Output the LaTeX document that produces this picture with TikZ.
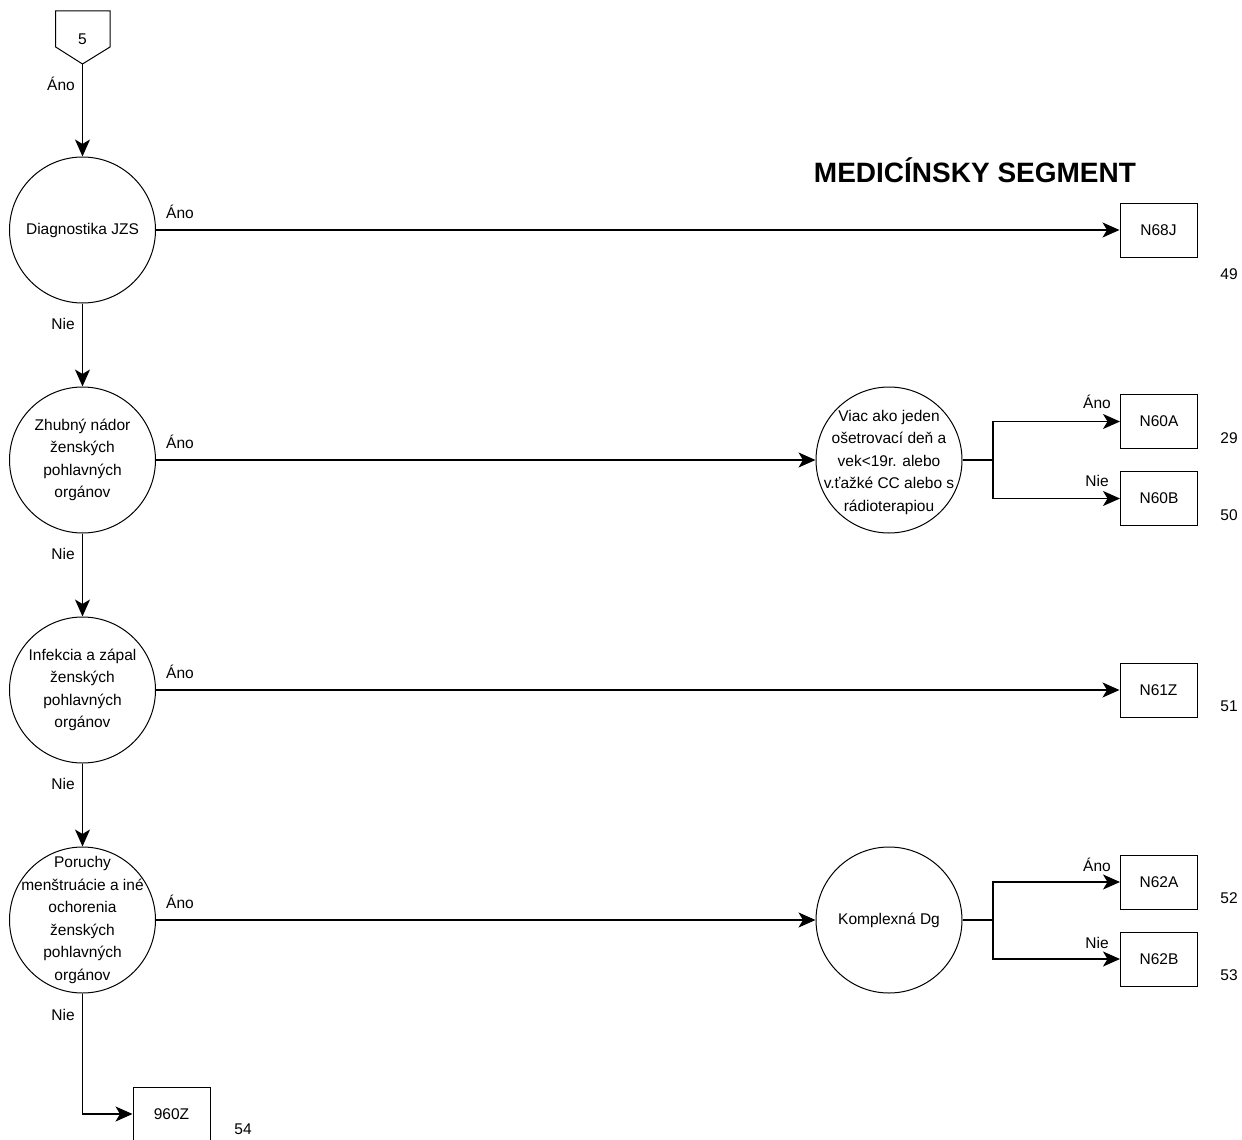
\documentclass[tikz,border=0pt]{standalone}
\usepackage{fontspec}
\setmainfont{Liberation Sans}
\usetikzlibrary{arrows.meta}
\begin{document}
\begin{tikzpicture}[x=1pt,y=-1pt,
 every node/.style={font=\fontsize{15.5}{22.5}\selectfont},
 dec/.style={draw,circle,minimum size=146pt,inner sep=0pt,line width=1pt},
 ctext/.style={align=center,inner sep=0pt},
 box/.style={draw,minimum width=77pt,minimum height=54pt,inner sep=0pt,line width=1pt},
 lbl/.style={anchor=base,inner sep=0pt},
 conn/.style={line width=1.3pt,-{Stealth[length=17pt,width=15pt,inset=4.5pt]}},
 plain/.style={line width=1.3pt}]
\fill[white] (0,0) rectangle (1242,1140);
\useasboundingbox (0,0) rectangle (1242,1140);

% off-page connector
\draw[line width=1pt] (55.7,11) -- (110,11) -- (110,47) -- (82.5,64) -- (55.7,47) -- cycle;
\node[ctext] (p5) at (82.5,39) {5};
\coordinate (p5tip) at (82.5,64);

% title
\node[lbl,font=\fontsize{28}{30}\selectfont\bfseries] (title) at (975,182) {MEDICÍNSKY SEGMENT};

% decision circles
\node[dec] (c1) at (82.5,230) {};
\node[ctext] (t1) at (c1) {Diagnostika JZS};
\node[dec] (c2) at (82.5,460) {};
\node[ctext] (t2) at (c2) {Zhubný nádor\\ženských\\pohlavných\\orgánov};
\node[dec] (c3) at (82.5,690) {};
\node[ctext] (t3) at (c3) {Infekcia a zápal\\ženských\\pohlavných\\orgánov};
\node[dec] (c4) at (82.5,920) {};
\node[ctext] (t4) at (c4) {Poruchy\\menštruácie a iné\\ochorenia\\ženských\\pohlavných\\orgánov};
\node[dec] (v) at (889,460) {};
\node[ctext] (tv) at (889,462) {Viac ako jeden\\ošetrovací deň a\\vek<19r. alebo\\v.ťažké CC alebo s\\rádioterapiou};
\node[dec] (k) at (889,920) {};
\node[ctext] (tk) at (k) {Komplexná Dg};

% result boxes
\node[box] (n68j) at (1158.5,230) {N68J};
\node[box] (n60a) at (1159,421.5) {N60A};
\node[box] (n60b) at (1159,498.5) {N60B};
\node[box] (n61z) at (1158.5,690) {N61Z};
\node[box] (n62a) at (1159,882) {N62A};
\node[box] (n62b) at (1159,959) {N62B};
\node[box] (z960) at (171.5,1114) {960Z};

% numbers
\node[lbl] (m49) at (1229,279) {49};
\node[lbl] (m29) at (1229,443) {29};
\node[lbl] (m50) at (1229,520) {50};
\node[lbl] (m51) at (1229,711) {51};
\node[lbl] (m52) at (1229,903) {52};
\node[lbl] (m53) at (1229,980) {53};
\node[lbl] (m54) at (243,1134) {54};

% branch points
\coordinate (b1) at (993,460);
\coordinate (b2) at (993,920);

% connectors
\draw[conn] (p5tip) -- (c1);
\draw[conn] (c1) -- (n68j);
\draw[conn] (c1) -- (c2);
\draw[conn] (c2) -- (v);
\draw[plain] (v) -- (b1);
\draw[conn] (b1) |- (n60a);
\draw[conn] (b1) |- (n60b);
\draw[conn] (c2) -- (c3);
\draw[conn] (c3) -- (n61z);
\draw[conn] (c3) -- (c4);
\draw[conn] (c4) -- (k);
\draw[plain] (k) -- (b2);
\draw[conn] (b2) |- (n62a);
\draw[conn] (b2) |- (n62b);
\draw[conn] (c4.south) |- (z960.west);

% edge labels
\node[lbl] (l0) at (61,91) {Áno};
\node[lbl] (l1a) at (180,218) {Áno};
\node[lbl] (l1n) at (63,329) {Nie};
\node[lbl] (l2a) at (180,448) {Áno};
\node[lbl] (l2n) at (63,559) {Nie};
\node[lbl] (l3a) at (180,678) {Áno};
\node[lbl] (l3n) at (63,789) {Nie};
\node[lbl] (l4a) at (180,908) {Áno};
\node[lbl] (l4n) at (63,1020) {Nie};
\node[lbl] (lva) at (1097,408) {Áno};
\node[lbl] (lvn) at (1097,486) {Nie};
\node[lbl] (lka) at (1097,871) {Áno};
\node[lbl] (lkn) at (1097,948) {Nie};
\end{tikzpicture}
\end{document}
